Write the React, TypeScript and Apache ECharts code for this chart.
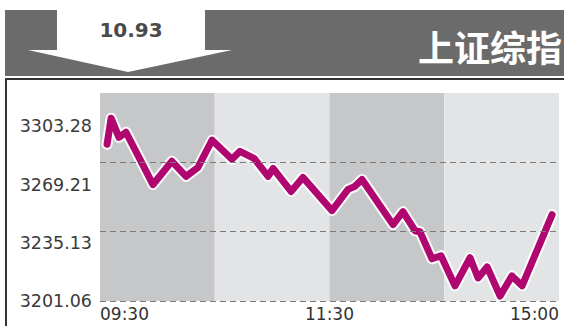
import React, { useEffect, useRef } from "react";
import * as echarts from "echarts";

// minutes since 09:30 (trading minutes) and index value
const times = [3.7, 5.8, 9.9, 13.6, 27.7, 37.6, 45.0, 51.2, 58.6, 69.0, 73.2, 80.5, 87.9, 90.5, 99.9, 106.1, 121.3, 129.7, 133.3, 137.0, 153.2, 158.4, 164.7, 167.3, 173.6, 178.3, 185.6, 193.5, 197.7, 202.4, 209.2, 215.4, 220.7, 236.4];
const values = [3278.1, 3290.9, 3281.5, 3284.0, 3258.3, 3269.7, 3262.3, 3266.7, 3280.1, 3270.7, 3274.6, 3271.2, 3262.3, 3266.2, 3254.9, 3261.8, 3245.5, 3255.9, 3257.4, 3260.8, 3238.6, 3245.0, 3235.6, 3235.1, 3221.8, 3223.3, 3208.5, 3222.3, 3212.4, 3217.8, 3203.5, 3213.4, 3208.5, 3243.5];
const yTickLabels = ["3201.06", "3235.13", "3269.21", "3303.28"];
const yMin = 3201.06;
const yMax = 3303.28;
const dashLevels = [3201.06, 3235.13, 3269.21];
const xTickLabels: Record<number, string> = { 0: "09:30", 120: "11:30", 240: "15:00" };
const changeText = "10.93";
const titleText = "上证综指";

export default function App() {
  const ref = useRef<HTMLDivElement>(null);
  useEffect(() => {
    if (!ref.current) return;
    const chart = echarts.init(ref.current, null, { renderer: "svg" });
    const data = times.map((t, i) => [t, values[i]]);
    const yStep = (yMax - yMin) / 3;
    chart.setOption({
      animation: false,
      backgroundColor: "#ffffff",
      grid: { left: 100, right: 5, top: 93, bottom: 25 },
      xAxis: {
        type: "value",
        min: 0,
        max: 240,
        interval: 60,
        axisLine: { show: false },
        axisTick: { show: false },
        splitLine: { show: false },
        splitArea: { show: true, areaStyle: { color: ["#c6c7c9", "#e3e4e6"] } },
        axisLabel: {
          margin: 4,
          fontSize: 17,
          fontFamily: "DejaVu Sans",
          color: "#333333",
          alignMinLabel: "left",
          alignMaxLabel: "right",
          showMinLabel: true,
          showMaxLabel: true,
          formatter: (v: number) => xTickLabels[v] ?? "",
        },
      },
      yAxis: [
        {
          type: "value",
          min: yMin,
          max: yMax,
          interval: yStep,
          axisLine: { show: false },
          axisTick: { show: false },
          splitLine: { show: false },
          axisLabel: { show: false },
        },
        {
          type: "value",
          position: "left",
          min: 0,
          max: 208 / 58.2,
          interval: 1,
          axisLine: { show: false },
          axisTick: { show: false },
          splitLine: { show: false },
          axisLabel: {
            margin: 8,
            fontSize: 17.5,
            fontFamily: "DejaVu Sans",
            color: "#3a3a3a",
            formatter: (v: number) => yTickLabels[Math.round(v)] !== undefined && Math.abs(v - Math.round(v)) < 1e-6 ? yTickLabels[Math.round(v)] : "",
          },
        },
      ],
      series: [
        {
          type: "line",
          data,
          z: 2,
          symbol: "none",
          silent: true,
          lineStyle: { color: "rgba(255,255,255,0.9)", width: 11, join: "round", cap: "round" },
          markLine: {
            silent: true,
            symbol: "none",
            label: { show: false },
            lineStyle: { color: "#7a7a7a", width: 1, type: [6, 4] },
            data: dashLevels.map((v) => ({ yAxis: v })),
          },
        },
        {
          type: "line",
          data,
          z: 3,
          symbol: "none",
          silent: true,
          lineStyle: { color: "#b0066f", width: 7, join: "round", cap: "round" },
        },
      ],
      graphic: [
        { type: "rect", shape: { x: 5, y: 10, width: 559, height: 66 }, style: { fill: "#6b6b6b" }, z: 10 },
        { type: "rect", shape: { x: 57, y: 10, width: 148, height: 42 }, style: { fill: "#ffffff" }, z: 11 },
        { type: "polygon", shape: { points: [[28, 50], [232, 50], [128, 72]] }, style: { fill: "#ffffff" }, z: 11 },
        {
          type: "text",
          x: 131,
          y: 30,
          z: 12,
          style: { text: changeText, fill: "#4a4a4a", font: "bold 20px 'DejaVu Sans'", textAlign: "center", textVerticalAlign: "middle" },
        },
        {
          type: "text",
          x: 562,
          y: 46,
          z: 12,
          style: { text: titleText, fill: "#ffffff", font: "bold 36px 'Noto Sans CJK SC'", textAlign: "right", textVerticalAlign: "middle" },
        },
        { type: "rect", shape: { x: 6, y: 79, width: 620, height: 300 }, style: { fill: "none", stroke: "#333333", lineWidth: 2 }, z: 9 },
      ],
    });
    return () => chart.dispose();
  }, []);
  return <div ref={ref} style={{ width: 564, height: 326, position: "absolute", left: 0, top: 0 }} />;
}
